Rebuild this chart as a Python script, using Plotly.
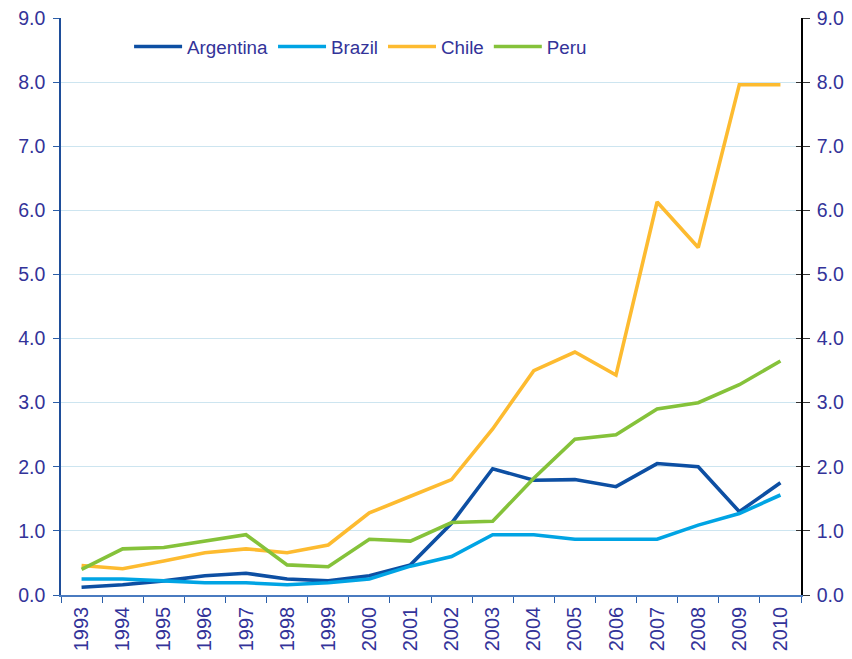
import plotly.graph_objects as go

years = [str(y) for y in range(1993, 2011)]
argentina = [0.12, 0.16, 0.22, 0.30, 0.34, 0.25, 0.22, 0.30, 0.47, 1.12, 1.97, 1.79, 1.80, 1.69, 2.05, 2.00, 1.30, 1.75]
brazil = [0.25, 0.25, 0.22, 0.19, 0.19, 0.16, 0.19, 0.25, 0.45, 0.60, 0.94, 0.94, 0.87, 0.87, 0.87, 1.09, 1.27, 1.56]
chile = [0.46, 0.41, 0.53, 0.66, 0.72, 0.66, 0.78, 1.28, 1.54, 1.80, 2.59, 3.50, 3.79, 3.43, 6.13, 5.42, 7.96, 7.96]
peru = [0.40, 0.72, 0.74, 0.84, 0.94, 0.47, 0.44, 0.87, 0.84, 1.13, 1.15, 1.82, 2.43, 2.50, 2.90, 3.00, 3.28, 3.65]
y_ticks = [0, 1, 2, 3, 4, 5, 6, 7, 8, 9]
y_tick_text = ["0.0", "1.0", "2.0", "3.0", "4.0", "5.0", "6.0", "7.0", "8.0", "9.0"]

series = [
    ("Argentina", argentina, "#0D4FA3"),
    ("Brazil", brazil, "#00A4E4"),
    ("Chile", chile, "#FDBB30"),
    ("Peru", peru, "#85C23A"),
]

fig = go.Figure()
for name, vals, col in series:
    fig.add_trace(go.Scatter(x=years, y=vals, name=name, mode="lines",
                             line=dict(color=col, width=3.6)))
# invisible traces to carry the right-hand mirror axis (outside + inside ticks)
for ax in ("y2", "y3"):
    fig.add_trace(go.Scatter(x=years, y=chile, yaxis=ax, mode="lines",
                             line=dict(width=0), showlegend=False, hoverinfo="skip"))

label_color = "#333399"
font_family = "Liberation Sans, Arial, sans-serif"

fig.update_layout(
    width=852, height=659,
    margin=dict(l=53, r=59, t=10, b=72, autoexpand=False),
    paper_bgcolor="white", plot_bgcolor="white",
    font=dict(family=font_family, color=label_color, size=19),
    showlegend=True,
    legend=dict(orientation="h", x=0.092, xanchor="left", y=0.95, yanchor="middle",
                font=dict(size=18.8, color=label_color), itemwidth=48,
                bgcolor="rgba(0,0,0,0)", tracegroupgap=0),
    xaxis=dict(type="category", tickson="boundaries", ticks="outside", ticklen=6,
               range=[-0.5, len(years) - 0.5],
               tickcolor="#2B5EA8", showline=True, linecolor="#4A7BC0", linewidth=1.5,
               showgrid=False, tickangle=-90, tickfont=dict(size=20, color=label_color),
               automargin=False, ticklabeloverflow="allow", ticklabelstandoff=2),
    yaxis=dict(range=[0, 9], tickvals=y_ticks, ticktext=y_tick_text, ticks="outside",
               ticklen=6, tickcolor="#2B5EA8", showline=True, linecolor="#1F4E9A",
               linewidth=1.5, showgrid=True, gridcolor="#CDE5F0", gridwidth=1,
               zeroline=False, tickfont=dict(size=19.5, color=label_color),
               automargin=False, ticklabelstandoff=4, ticklabeloverflow="allow"),
    yaxis2=dict(range=[0, 9], tickvals=y_ticks, ticktext=y_tick_text, overlaying="y",
                side="right", ticks="outside", ticklen=7, tickcolor="#333333",
                showline=True, linecolor="black", linewidth=1.5, showgrid=False,
                zeroline=False, tickfont=dict(size=19.5, color=label_color),
                automargin=False, ticklabelstandoff=3, ticklabeloverflow="allow"),
    yaxis3=dict(range=[0, 9], tickvals=y_ticks, overlaying="y", side="right",
                ticks="inside", ticklen=5, tickcolor="#333333", showticklabels=False,
                showline=False, showgrid=False, zeroline=False, automargin=False),
)

fig.write_html("out.html")
